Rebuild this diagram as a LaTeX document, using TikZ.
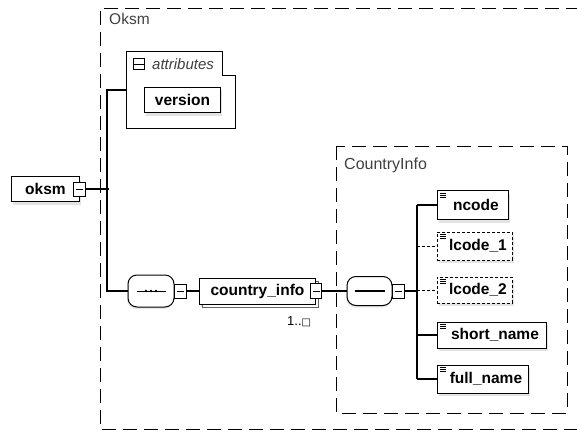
\documentclass[tikz,border=0pt]{standalone}
\usepackage{fontspec}
\setmainfont{Liberation Sans}
\newfontfamily\symbfont{DejaVu Sans}
\usetikzlibrary{positioning,shadows}
\tikzset{%
        wire/.style = {draw = black, line width = 1.2pt},
        optwire/.style = {draw = black, line width = 0.9pt, densely dashed},
        container/.style = {draw = black, line width = 0.9pt, dash pattern = on 14pt off 7pt},
        elem/.style = {
            draw = black,
            line width = 0.9pt,
            fill = white,
            anchor = west,
            inner sep = 0pt,
            font = \fontsize{15.5}{17}\selectfont\bfseries,
            drop shadow = {shadow xshift = 2pt, shadow yshift = -3pt, fill = black!22}
        },
        optelem/.style = {elem, densely dashed},
        plusbox/.style = {
            draw = black,
            line width = 0.8pt,
            fill = white,
            minimum width = 12pt,
            minimum height = 14pt,
            inner sep = 0pt
        },
        compositor/.style = {
            rectangle,
            rounded corners = 9pt,
            draw = black,
            line width = 1pt,
            fill = white,
            inner sep = 0pt,
            drop shadow = {shadow xshift = -1pt, shadow yshift = -2pt, fill = black!18}
        },
        lbl/.style = {anchor = west, inner sep = 0pt, text = black!75, font = \fontsize{15.5}{17}\selectfont}
}

\begin{document}
\begin{tikzpicture}[x=1pt, y=-1pt]
        \useasboundingbox (0,0) rectangle (577,433);
        % containers
        \draw[container] (580,8) -- (100,8) -- (100,429) -- (580,429);
        \node[lbl] (oksmlbl) at (109,19) {Oksm};
        \draw[container] (336,146) rectangle (567,413);
        \node[lbl, font = \fontsize{16}{18}\selectfont] (cinfolbl) at (344,165) {CountryInfo};
        % attributes
        \draw[line width = 0.9pt, fill = white] (126,51) -- (222,51) -- (222,75) -- (235,75) -- (235,128) -- (126,128) -- cycle;
        \node[draw, line width = 0.7pt, minimum size = 11pt, inner sep = 0pt] (attrsign) at (139,64) {};
        \draw[line width = 0.7pt] (attrsign.west) -- (attrsign.east);
        \node[lbl, font = \fontsize{15}{17}\selectfont\itshape] (attrlbl) at (152,64) {attributes};
        \coordinate (attrin) at (126,90);
        \node[elem, minimum width = 76pt, minimum height = 25pt] (version) at (144,100) {version};
        % root element
        \node[elem, minimum width = 68pt, minimum height = 25pt] (oksm) at (11,189) {oksm\hspace{6pt}};
        \node[plusbox] (oksmplus) at (79.5,189) {};
        % first sequence
        \node[compositor, minimum width = 46pt, minimum height = 32pt] (seq1) at (151,291) {};
        \node[plusbox] (seq1plus) at (180.5,291) {};
        \node[elem, minimum width = 116pt, minimum height = 26pt,
              copy shadow = {shadow xshift = 3pt, shadow yshift = -3pt, draw = black!60, fill = white}] (cinfo) at (199,291) {country\_info\hspace{10pt}};
        \node[plusbox, minimum width = 11pt, minimum height = 15pt] (cinfoplus) at (316,291) {};
        \node[anchor = west, inner sep = 0pt, font = \fontsize{13}{15}\selectfont] (cinfoocc) at (287,322) {1..{\symbfont\fontsize{10}{11}\selectfont □}};
        % second sequence
        \node[compositor, minimum width = 45pt, minimum height = 29pt] (seq2) at (369.5,291) {};
        \node[plusbox] (seq2plus) at (398,291) {};
        % children of CountryInfo
        \node[elem, minimum width = 71pt, minimum height = 29pt] (ncode) at (437,205) {\hspace{6pt}ncode};
        \node[optelem, minimum width = 75pt, minimum height = 28pt] (lcodeA) at (437,246) {\hspace{6pt}lcode\_1};
        \node[optelem, minimum width = 75pt, minimum height = 26pt] (lcodeB) at (437,290) {\hspace{6pt}lcode\_2};
        \node[elem, minimum width = 109pt, minimum height = 26pt] (shortname) at (437,335) {\hspace{6pt}short\_name};
        \node[elem, minimum width = 91pt, minimum height = 28pt] (fullname) at (437,379) {\hspace{6pt}full\_name};
        % signs in the boxes
        \foreach \p in {oksmplus, seq1plus, cinfoplus, seq2plus}
            \draw[line width = 0.8pt] ([xshift = -3.5pt]\p.center) -- ([xshift = 3.5pt]\p.center);
        \draw[line width = 0.9pt] ([xshift = 9pt]seq1.west) -- ([xshift = -9pt]seq1.east);
        \foreach \d in {-5, 0, 5}
            \fill ([xshift = \d pt]seq1.center) circle (1.3pt);
        \draw[line width = 1.6pt] ([xshift = 8pt]seq2.west) -- ([xshift = -8pt]seq2.east);
        \foreach \n in {ncode, lcodeA, lcodeB, shortname, fullname}
            \foreach \s in {3, 5, 7}
                \draw[line width = 0.5pt] ([xshift = 3pt, yshift = -\s pt]\n.north west) -- ++(6,0);
        % connectors
        \coordinate (trunkA) at (107,90);
        \coordinate (trunkB) at (107,291);
        \coordinate (trunkC) at (417,205);
        \coordinate (trunkD) at (417,379);
        \path[wire]
            (attrin) -- (trunkA) -- (trunkB) -- (seq1.west)
            (oksmplus.east) -- ([xshift = 2pt]oksmplus.east -| trunkA)
            (seq1plus.east) -- (cinfo.west)
            (cinfoplus.east) -- (seq2.west)
            (seq2plus.east) -- (seq2plus.east -| trunkC)
            (trunkC) -- (trunkD)
            (trunkC) -- (ncode.west)
            (shortname.west -| trunkC) -- (shortname.west)
            (trunkD) -- (fullname.west);
        \path[optwire]
            (lcodeA.west -| trunkC) -- (lcodeA.west)
            (lcodeB.west -| trunkC) -- (lcodeB.west);
\end{tikzpicture}
\end{document}
